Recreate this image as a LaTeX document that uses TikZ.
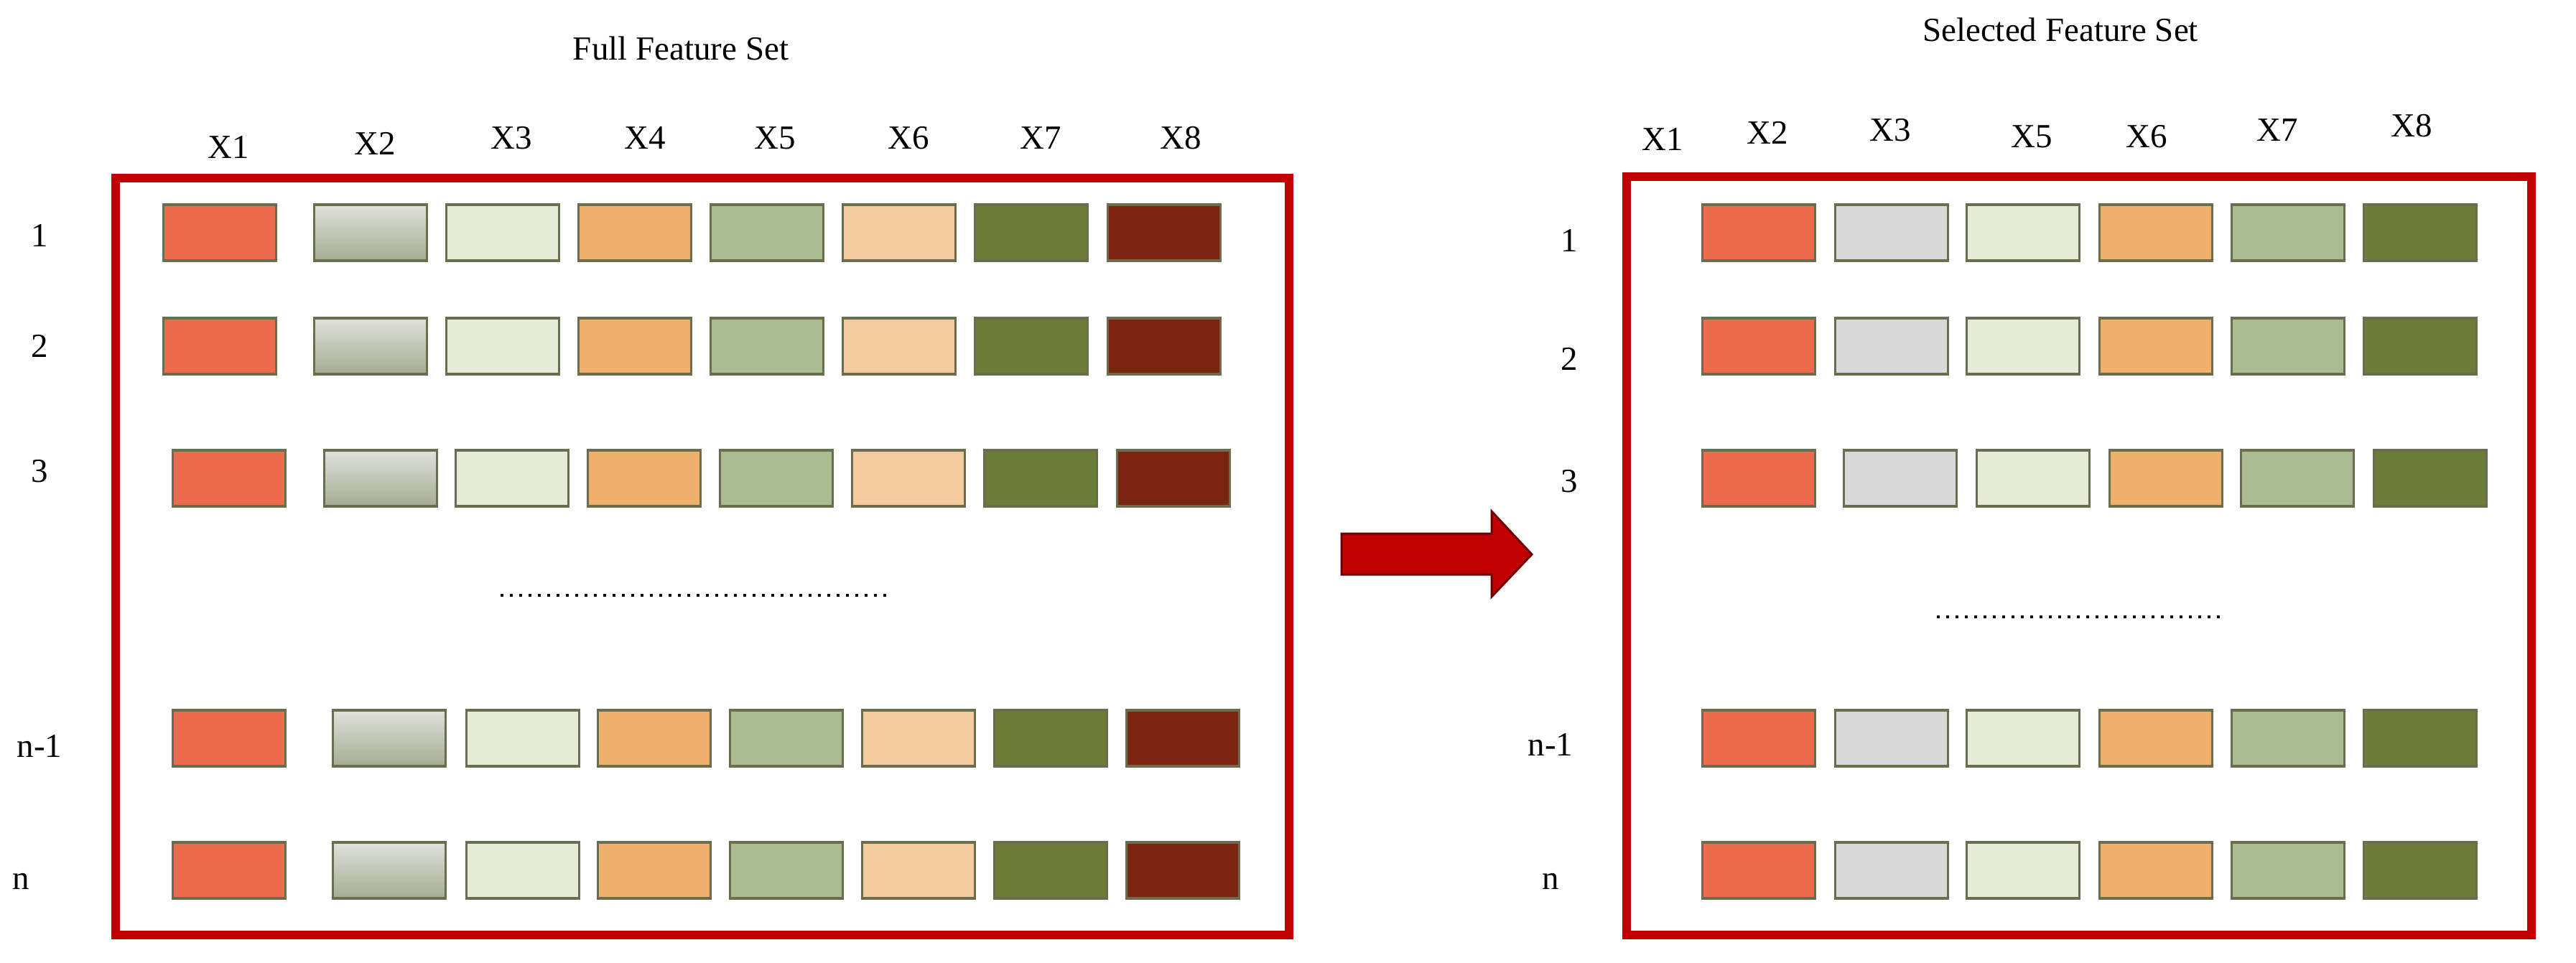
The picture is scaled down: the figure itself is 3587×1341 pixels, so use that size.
\documentclass[tikz,border=0pt]{standalone}
\usepackage{fontspec}
\setmainfont{Liberation Serif}
\definecolor{cA}{HTML}{EC6B4D}
\definecolor{cBtop}{HTML}{DFE1DC}
\definecolor{cBbot}{HTML}{A6AC92}
\definecolor{cGray}{HTML}{D9D9D9}
\definecolor{cC}{HTML}{E7ECD8}
\definecolor{cD}{HTML}{EFAF6D}
\definecolor{cE}{HTML}{ABBB91}
\definecolor{cF}{HTML}{F4CB9F}
\definecolor{cG}{HTML}{6E7C3A}
\definecolor{cH}{HTML}{7B2410}
\definecolor{cellborder}{HTML}{6A6E4E}
\definecolor{framered}{HTML}{C00000}
\definecolor{arrowdark}{HTML}{6E0000}
\begin{document}
\begin{tikzpicture}[x=1pt,y=-1pt,
  cell/.style={draw=cellborder, line width=3.5pt, minimum width=157pt, minimum height=78pt, inner sep=0pt, anchor=center},
  lbl/.style={font=\fontsize{47}{56}\selectfont, inner sep=0pt, anchor=center},
  frame/.style={draw=framered, line width=12pt},
  dotline/.style={line width=4pt, dash pattern=on 3.5pt off 9.5pt},
  L1/.style={fill=cA}, L2/.style={top color=cBtop, bottom color=cBbot}, L3/.style={fill=cC},
  L4/.style={fill=cD}, L5/.style={fill=cE}, L6/.style={fill=cF}, L7/.style={fill=cG}, L8/.style={fill=cH},
  R1/.style={fill=cA}, R2/.style={fill=cGray}, R3/.style={fill=cC},
  R4/.style={fill=cD}, R5/.style={fill=cE}, R6/.style={fill=cG}]
\useasboundingbox (0,0) rectangle (3587,1341);

% frames
\draw[frame] (161,248) rectangle (1795,1302);
\draw[frame] (2265,246) rectangle (3525,1302);

% titles
\node[lbl] (t1) at (948,67) {Full Feature Set};
\node[lbl] (t2) at (2869,41) {Selected Feature Set};

% left column labels
\foreach \x/\y/\t in {318/205/X1, 522/200/X2, 712/192/X3, 898/192/X4, 1079/192/X5, 1265/192/X6, 1449/192/X7, 1644/192/X8}
  \node[lbl] (lc\t) at (\x,\y) {\t};
% right column labels
\foreach \x/\y/\t in {2315/194/X1, 2461/185/X2, 2632/181/X3, 2829/190/X5, 2989/190/X6, 3171/181/X7, 3358/175/X8}
  \node[lbl] (rc\t) at (\x,\y) {\t};

% left row labels
\node[lbl] (lr1) at (55,328) {1};
\node[lbl] (lr2) at (55,482) {2};
\node[lbl] (lr3) at (55,656) {3};
\node[lbl] (lrm) at (55,1039) {n-1};
\node[lbl] (lrn) at (29,1227) {n};
% right row labels
\node[lbl] (rr1) at (2185,335) {1};
\node[lbl] (rr2) at (2185,500) {2};
\node[lbl] (rr3) at (2185,670) {3};
\node[lbl] (rrm) at (2159,1037) {n-1};
\node[lbl] (rrn) at (2159,1227) {n};

% left cells
\foreach \y/\r/\xs in {324/1/{306,516,700,884,1068,1252,1436,1621},
                       482/2/{306,516,700,884,1068,1252,1436,1621},
                       666/3/{319,530,713,897,1081,1265,1449,1634},
                       1028/m/{319,542,728,911,1095,1279,1463,1647},
                       1212/n/{319,542,728,911,1095,1279,1463,1647}}
  \foreach \x [count=\c] in \xs
    \node[cell, L\c] (L\r-\c) at (\x,\y) {};

% right cells
\foreach \y/\r/\xs in {324/1/{2449,2634,2817,3002,3186,3370},
                       482/2/{2449,2634,2817,3002,3186,3370},
                       666/3/{2449,2646,2831,3016,3199,3384},
                       1028/m/{2449,2634,2817,3002,3186,3370},
                       1212/n/{2449,2634,2817,3002,3186,3370}}
  \foreach \x [count=\c] in \xs
    \node[cell, R\c] (R\r-\c) at (\x,\y) {};

% dotted ellipsis lines
\coordinate (d1a) at (697,829);
\coordinate (d1b) at (1234,829);
\draw[dotline] (d1a) -- (d1b);
\coordinate (d2a) at (2697,859);
\coordinate (d2b) at (3097,859);
\draw[dotline] (d2a) -- (d2b);

% block arrow
\filldraw[fill=framered, draw=arrowdark, line width=3pt, line join=miter]
  (1868,743) -- (2077,743) -- (2077,712) -- (2133,772) -- (2077,831) -- (2077,800) -- (1868,800) -- cycle;
\end{tikzpicture}
\end{document}
